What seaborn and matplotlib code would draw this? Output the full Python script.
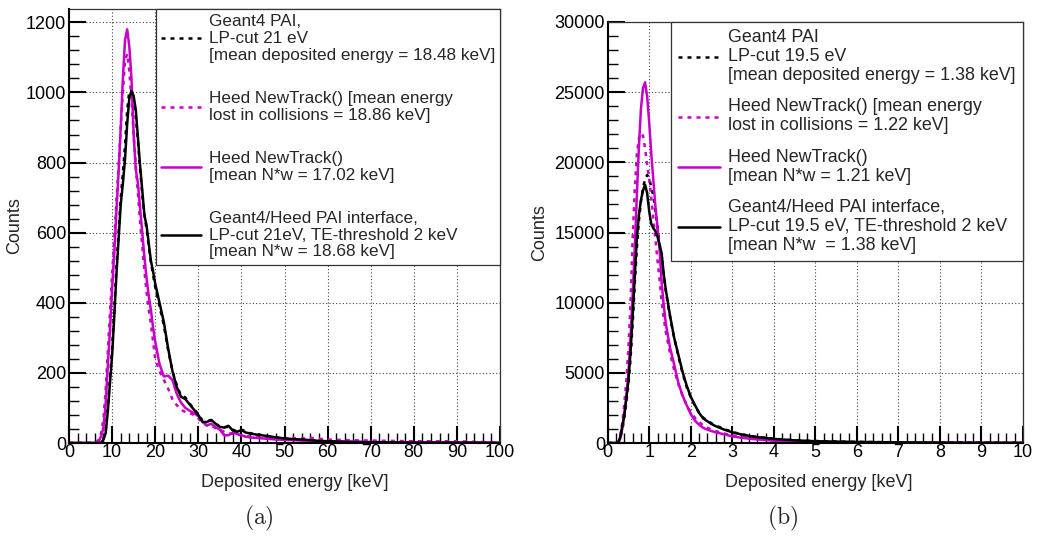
import numpy as np
import pandas as pd
import matplotlib
matplotlib.use("Agg")
import matplotlib.pyplot as plt
from matplotlib.ticker import MultipleLocator
import seaborn as sns

# ---- data ----
# panel (a)
e_a = [0, 5, 6, 6.5, 7, 7.5, 8, 8.5, 9, 9.5, 10, 10.5, 11, 11.5, 12, 12.5, 13, 13.5,
       14, 14.5, 15, 15.5, 16, 16.5, 17, 17.5, 18, 18.5, 19, 19.5, 20, 21, 22, 23, 24,
       25, 26, 27, 28, 29, 30, 31, 32, 33, 34, 35, 36, 37, 38, 39, 40, 41, 42, 44, 46,
       48, 50, 52, 54, 56, 58, 60, 65, 70, 75, 80, 85, 90, 95, 100]
g4pai_a = [0, 0, 0, 0, 0, 2, 12, 35, 100, 185, 270, 380, 500, 600, 700, 770, 850, 950,
           1005, 1008, 975, 930, 860, 780, 710, 650, 610, 560, 515, 480, 445, 390, 335,
           265, 205, 165, 135, 130, 112, 97, 82, 64, 63, 64, 55, 47, 45, 46, 38, 33, 38,
           34, 28, 24, 20, 16, 13, 11, 9, 8, 6, 5, 3, 2, 2, 1, 1, 1, 1, 0]
heedcol_a = [0, 0, 1, 4, 12, 30, 70, 150, 260, 370, 480, 580, 690, 790, 900, 1000, 1090,
             1110, 1060, 980, 880, 790, 710, 630, 560, 490, 430, 380, 340, 290, 240, 205,
             180, 155, 125, 108, 95, 88, 85, 80, 70, 58, 50, 50, 42, 38, 32, 28, 26, 24,
             22, 20, 18, 16, 15, 14, 14, 14, 13, 15, 12, 10, 8, 7, 6, 5, 5, 5, 3, 2]
heednw_a = [0, 0, 0, 2, 8, 20, 45, 110, 220, 320, 440, 540, 660, 770, 900, 1040, 1150,
            1180, 1130, 1040, 880, 780, 740, 670, 600, 530, 470, 420, 380, 330, 290, 225,
            190, 192, 180, 140, 115, 100, 92, 85, 77, 60, 50, 55, 45, 38, 22, 22, 30, 26,
            22, 18, 16, 14, 12, 10, 9, 8, 7, 6, 5, 5, 4, 3, 2, 2, 2, 1, 1, 1]
iface_a = [0, 0, 0, 0, 0, 2, 10, 28, 90, 170, 250, 360, 480, 580, 680, 740, 810, 910,
           985, 1003, 990, 950, 870, 790, 720, 650, 620, 570, 520, 490, 455, 400, 345,
           270, 205, 160, 132, 125, 110, 95, 80, 60, 60, 66, 55, 46, 44, 49, 36, 32, 37,
           30, 27, 23, 20, 16, 13, 11, 10, 8, 6, 5, 3, 2, 2, 1, 1, 1, 1, 0]

# panel (b)
e_b = [0, 0.2, 0.25, 0.3, 0.35, 0.4, 0.45, 0.5, 0.55, 0.6, 0.65, 0.7, 0.75, 0.8, 0.85,
       0.9, 0.95, 1.0, 1.05, 1.1, 1.15, 1.2, 1.25, 1.3, 1.35, 1.4, 1.5, 1.6, 1.7, 1.8,
       1.9, 2.0, 2.1, 2.2, 2.3, 2.4, 2.5, 2.6, 2.8, 3.0, 3.2, 3.5, 4.0, 4.5, 5.0, 5.5,
       6, 7, 8, 9, 10]
g4pai_b = [0, 0, 0, 300, 900, 1800, 2900, 4200, 6000, 8500, 11200, 13800, 15800, 17200,
           18200, 18800, 19100, 18900, 18200, 17600, 16500, 15400, 14200, 13200, 11900,
           10800, 9000, 7500, 6200, 5000, 4000, 3250, 2650, 2150, 1800, 1600, 1400, 1250,
           1000, 790, 640, 470, 300, 200, 140, 105, 80, 48, 32, 21, 13]
heedcol_b = [0, 0, 0, 500, 1400, 2800, 4500, 6800, 10000, 14500, 18000, 20500, 21700,
             22100, 21900, 21000, 19800, 18800, 17400, 16000, 14500, 13000, 11600, 10000,
             8900, 7900, 6400, 5200, 4200, 3400, 2700, 2200, 1800, 1500, 1250, 1100, 950,
             850, 680, 540, 430, 320, 190, 120, 80, 55, 40, 22, 14, 9, 6]
heednw_b = [0, 0, 0, 300, 1000, 2000, 3300, 5000, 7500, 10500, 13800, 17500, 21000, 23800,
            25300, 25700, 24700, 22800, 20600, 18700, 16800, 15400, 13700, 11400, 9800,
            8500, 6800, 5600, 4300, 3400, 2700, 2050, 1600, 1300, 1080, 950, 850, 760, 620,
            480, 380, 280, 170, 110, 70, 50, 35, 20, 12, 8, 5]
iface_b = [0, 0, 0, 400, 1200, 2000, 3200, 4500, 6500, 9000, 11800, 14500, 16200, 17300,
           18000, 18400, 17800, 16500, 15600, 15300, 15100, 14700, 14100, 13500, 12000,
           10900, 9100, 7500, 6300, 5100, 4100, 3300, 2700, 2150, 1750, 1550, 1350, 1200,
           960, 760, 620, 450, 290, 190, 130, 100, 75, 45, 30, 20, 12]

labels_a = ["Geant4 PAI,\nLP-cut 21 eV\n[mean deposited energy = 18.48 keV]",
            "Heed NewTrack() [mean energy\nlost in collisions = 18.86 keV]",
            "Heed NewTrack()\n[mean N*w = 17.02 keV]",
            "Geant4/Heed PAI interface,\nLP-cut 21eV, TE-threshold 2 keV\n[mean N*w = 18.68 keV]"]
labels_b = ["Geant4 PAI\nLP-cut 19.5 eV\n[mean deposited energy = 1.38 keV]",
            "Heed NewTrack() [mean energy\nlost in collisions = 1.22 keV]",
            "Heed NewTrack()\n[mean N*w = 1.21 keV]",
            "Geant4/Heed PAI interface,\nLP-cut 19.5 eV, TE-threshold 2 keV\n[mean N*w  = 1.38 keV]"]

sns.set_theme(style="white")
plt.rcParams['font.family'] = ['Liberation Sans', 'DejaVu Sans']
plt.rcParams['mathtext.fontset'] = 'cm'

MAG = '#c800c8'
colors = ['black', MAG, MAG, 'black']
dotted = [True, True, False, False]


def long_form(e, series, labels):
    df = pd.DataFrame({'Energy': e})
    for lab, s in zip(labels, series):
        df[lab] = s
    return pd.melt(df, ['Energy'], var_name='curve', value_name='Counts')


fig = plt.figure(figsize=(10.39, 5.36), dpi=100)
W, H = 1039, 536
ax_a = fig.add_axes([69 / W, 1 - 443 / H, 431 / W, 434 / H])
ax_b = fig.add_axes([607.7 / W, 1 - 443 / H, 415.3 / W, 421 / H])

# axes, data, labels, xmax, ymax, ticks, label coords, legend font/pad/spacing
panels = [
    (ax_a, e_a, [g4pai_a, heedcol_a, heednw_a, iface_a], labels_a, 100, 1238,
     10, 2, 200, 40, 0.524, -0.107, -0.071, 12.3, 0.3, 1.65),
    (ax_b, e_b, [g4pai_b, heedcol_b, heednw_b, iface_b], labels_b, 10, 30000,
     1, 0.2, 5000, 1000, 0.509, -0.144, -0.0736, 12.9, 0.4, 0.8),
]

for (ax, e, series, labels, xmax, ymax, xmaj, xmin_, ymaj, ymin_, xlx, yly, xly,
     lfs, lpad, lspace) in panels:
    data = long_form(e, series, labels)
    sns.lineplot(data=data, x='Energy', y='Counts', hue='curve', style='curve',
                 hue_order=labels, style_order=labels,
                 palette=dict(zip(labels, colors)),
                 dashes={lab: ((1.6, 2.0) if d else "") for lab, d in zip(labels, dotted)},
                 linewidth=1.8, ax=ax, legend=False)
    ax.set_xlim(0, xmax)
    ax.set_ylim(0, ymax)
    ax.xaxis.set_major_locator(MultipleLocator(xmaj))
    ax.xaxis.set_minor_locator(MultipleLocator(xmin_))
    ax.yaxis.set_major_locator(MultipleLocator(ymaj))
    ax.yaxis.set_minor_locator(MultipleLocator(ymin_))
    ax.tick_params(which='both', direction='in', bottom=True, left=True, top=False,
                   right=False, colors='black', labelsize=13)
    ax.tick_params(which='major', length=12, width=1.5)
    ax.tick_params(which='minor', length=7, width=1.0)
    ax.tick_params(axis='x', pad=1)
    ax.tick_params(axis='y', pad=2)
    ax.grid(True, which='major', color='#444444', linestyle=(0, (1, 2)), linewidth=0.8)
    for side in ['left', 'bottom']:
        ax.spines[side].set_linewidth(1.5)
        ax.spines[side].set_color('black')
    for side in ['top', 'right']:
        ax.spines[side].set_linewidth(0.9)
        ax.spines[side].set_color('#333333')
    ax.set_xlabel('Deposited energy [keV]', fontsize=13)
    ax.set_ylabel('Counts', fontsize=13)
    ax.xaxis.set_label_coords(xlx, xly)
    ax.yaxis.set_label_coords(yly, 0.5)

    leg = ax.legend(handles=ax.lines[:4], labels=labels, loc='upper right',
                    bbox_to_anchor=(1, 1), borderaxespad=0, fontsize=lfs,
                    fancybox=False, framealpha=1, edgecolor='#333333',
                    handlelength=2.35, handletextpad=0.45, labelspacing=lspace,
                    borderpad=lpad)
    leg.get_frame().set_linewidth(0.9)
    for t in leg.get_texts():
        t.set_linespacing(1.15)

fig.text(259 / W, 1 - 518 / H, r'$\mathrm{(a)}$', fontsize=17, ha='center', va='center')
fig.text(783 / W, 1 - 518 / H, r'$\mathrm{(b)}$', fontsize=17, ha='center', va='center')

fig.savefig('out.png', dpi=100, facecolor='white')
